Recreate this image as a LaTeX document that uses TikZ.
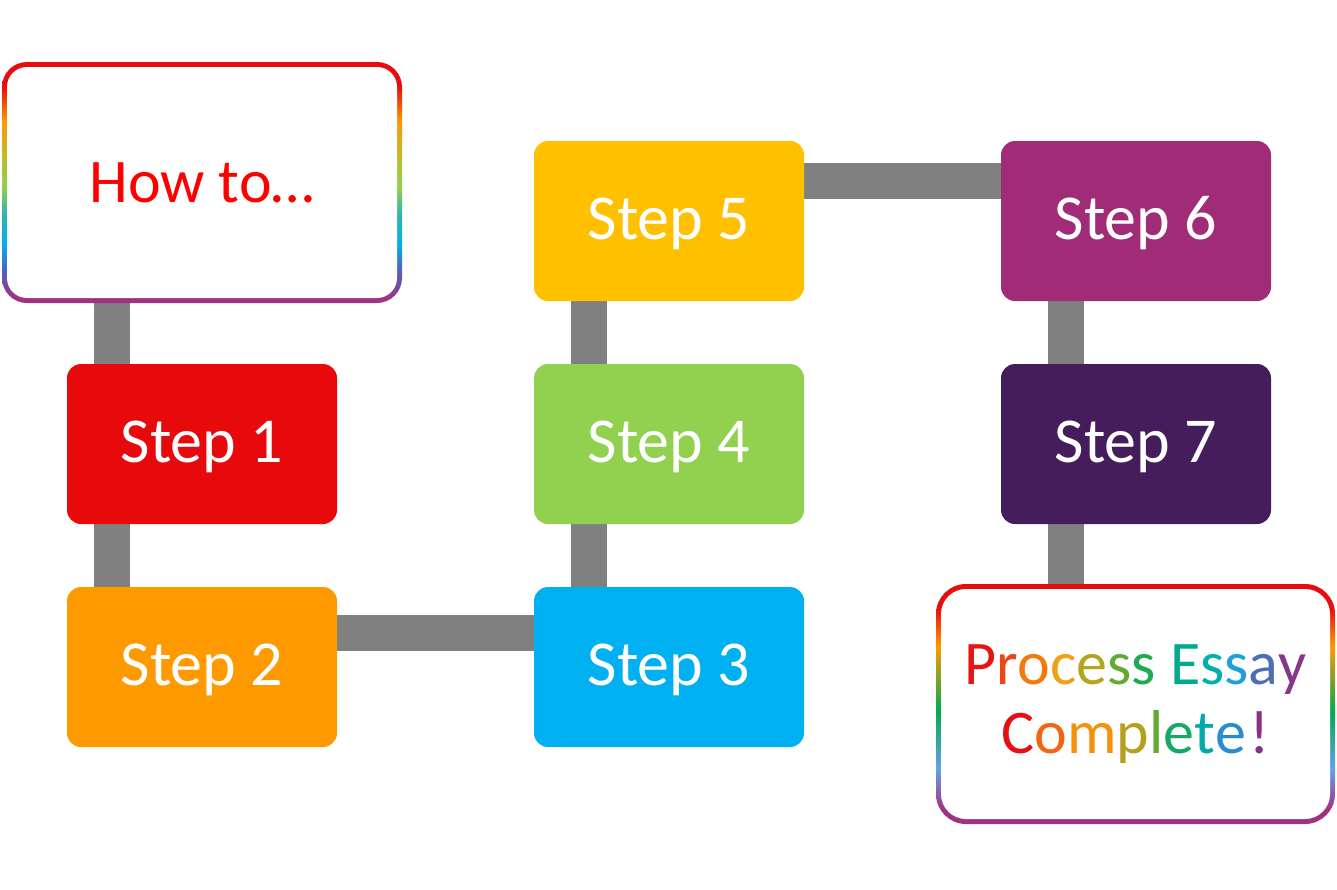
\documentclass[tikz,border=0pt]{standalone}
\usepackage{fontspec}
\setmainfont{Carlito}
\usetikzlibrary{backgrounds}
\definecolor{cRed}{RGB}{232,9,12}
\definecolor{cOrange}{RGB}{255,153,0}
\definecolor{cCyan}{RGB}{0,176,240}
\definecolor{cGreen}{RGB}{146,208,80}
\definecolor{cGold}{RGB}{255,192,0}
\definecolor{cMagenta}{RGB}{160,44,120}
\definecolor{cPurple}{RGB}{69,29,92}
\definecolor{cGray}{RGB}{128,128,128}
\definecolor{cText}{RGB}{255,0,0}
% border gradient colours
\definecolor{gRed}{RGB}{232,12,14}
\definecolor{gOrange}{RGB}{255,153,0}
\definecolor{gYellow}{RGB}{196,184,40}
\definecolor{gLime}{RGB}{146,208,80}
\definecolor{gGreen}{RGB}{0,170,80}
\definecolor{gTeal}{RGB}{50,180,170}
\definecolor{gCyan}{RGB}{0,176,240}
\definecolor{gLBlue}{RGB}{100,160,230}
\definecolor{gBlue}{RGB}{80,100,190}
\definecolor{gPurple}{RGB}{160,50,130}
\pgfdeclareverticalshading{rainbowA}{100bp}{color(0bp)=(gPurple); color(26bp)=(gPurple); color(32bp)=(gBlue); color(37.5bp)=(gCyan); color(43.5bp)=(gTeal); color(49bp)=(gLime); color(56bp)=(gYellow); color(62.5bp)=(gOrange); color(70bp)=(gRed); color(100bp)=(gRed)}
\pgfdeclareverticalshading{rainbowB}{100bp}{color(0bp)=(gPurple); color(28bp)=(gPurple); color(36.5bp)=(gLBlue); color(48.5bp)=(gGreen); color(62bp)=(gOrange); color(70bp)=(gRed); color(100bp)=(gRed)}
% letter colours
\definecolor{l1}{RGB}{230,20,20}
\definecolor{l2}{RGB}{236,70,20}
\definecolor{l3}{RGB}{245,120,10}
\definecolor{l4}{RGB}{240,160,20}
\definecolor{l5}{RGB}{180,165,30}
\definecolor{l6}{RGB}{100,170,50}
\definecolor{l7}{RGB}{30,170,80}
\definecolor{l8}{RGB}{0,170,140}
\definecolor{l9}{RGB}{0,175,175}
\definecolor{l10}{RGB}{30,160,220}
\definecolor{l11}{RGB}{80,110,180}
\definecolor{l12}{RGB}{135,55,135}
\definecolor{m1}{RGB}{230,15,20}
\definecolor{m2}{RGB}{245,100,15}
\definecolor{m3}{RGB}{245,145,10}
\definecolor{m4}{RGB}{180,160,30}
\definecolor{m5}{RGB}{100,170,50}
\definecolor{m6}{RGB}{20,170,100}
\definecolor{m7}{RGB}{0,170,170}
\definecolor{m8}{RGB}{40,140,210}
\definecolor{m9}{RGB}{135,50,135}
\begin{document}
\begin{tikzpicture}[x=1pt,y=-1pt,
  stepbox/.style={rounded corners=14pt, minimum width=270pt, minimum height=160pt,
    inner sep=0pt, text=white, font=\fontsize{64}{77}\selectfont,
    text height=42pt, text depth=6pt},
  conn/.style={draw=cGray, line width=36pt},
  gradbox/.style={rounded corners=#1, inner sep=0pt,
    path picture={\fill[white, rounded corners=#1-5pt]
      ([shift={(5pt,5pt)}]path picture bounding box.south west) rectangle
      ([shift={(-5pt,-5pt)}]path picture bounding box.north east);}}
]
\useasboundingbox (0,0) rectangle (1337,889);

% start box
\node[gradbox=25pt, shade, shading=rainbowA, minimum width=400pt, minimum height=241pt,
  text=cText, font=\fontsize{62}{74}\selectfont, text height=40pt, text depth=0pt]
  (h) at (202,182.5) {How to…};

% steps
\node[stepbox, fill=cRed]     (s1) at (202,444) {Step 1};
\node[stepbox, fill=cOrange]  (s2) at (202,667) {Step 2};
\node[stepbox, fill=cCyan]    (s3) at (669,667) {Step 3};
\node[stepbox, fill=cGreen]   (s4) at (669,444) {Step 4};
\node[stepbox, fill=cGold]    (s5) at (669,221) {Step 5};
\node[stepbox, fill=cMagenta] (s6) at (1136,221) {Step 6};
\node[stepbox, fill=cPurple]  (s7) at (1136,444) {Step 7};

% final box
\node[gradbox=30pt, shade, shading=rainbowB, minimum width=399pt, minimum height=240pt,
  align=center, font=\fontsize{62}{69}\selectfont]
  (f) at (1135.5,704)
  {\color{l1}P\color{l2}r\color{l3}o\color{l4}c\color{l5}e\color{l6}s\color{l7}s
   \color{l8}E\color{l9}s\color{l10}s\color{l11}a\color{l12}y\\
   \color{m1}C\color{m2}o\color{m3}m\color{m4}p\color{m5}l\color{m6}e\color{m7}t\color{m8}e\kern3pt\color{m9}!};

% connectors
\begin{scope}[on background layer]
\draw[conn] ([xshift=45pt]s1.north west |- h.south) -- ([xshift=45pt]s1.north west);
\draw[conn] ([xshift=45pt]s1.south west) -- ([xshift=45pt]s2.north west);
\draw[conn] ([yshift=34pt]s2.east) -- ([yshift=34pt]s3.west);
\draw[conn] ([xshift=55pt]s3.north west) -- ([xshift=55pt]s4.south west);
\draw[conn] ([xshift=55pt]s4.north west) -- ([xshift=55pt]s5.south west);
\draw[conn] ([yshift=40pt]s5.east) -- ([yshift=40pt]s6.west);
\draw[conn] ([xshift=65pt]s6.south west) -- ([xshift=65pt]s7.north west);
\draw[conn] ([xshift=65pt]s7.south west) -- ([xshift=65pt]s7.south west |- f.north);
\end{scope}
\end{tikzpicture}
\end{document}
